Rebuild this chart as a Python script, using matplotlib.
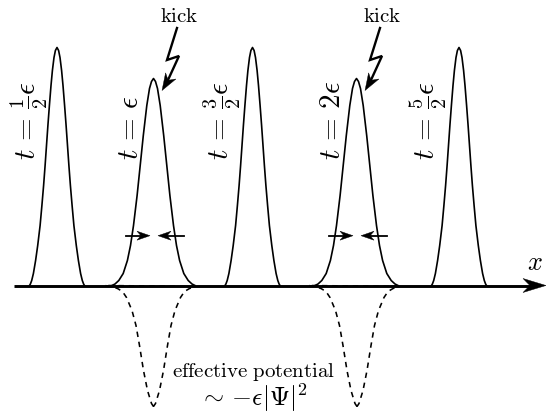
import matplotlib
matplotlib.use('Agg')
import matplotlib.pyplot as plt
import numpy as np
from matplotlib.patches import Polygon

plt.rcParams['mathtext.fontset'] = 'cm'

# everything is in picture pixels, y measured up from the x axis line
AXIS_Y = 285.5

# pulse profile: height above the axis -> half width
tall_h = [238, 235, 228, 215, 200, 180, 160, 140, 120, 100, 80, 60, 40, 25, 12, 5, 1.5, 0]
tall_w = [0, 1.6, 3.0, 4.6, 6.0, 7.6, 9.1, 10.5, 11.9, 13.4, 15.1, 16.9, 19.3, 21.4, 23.6, 25.3, 26.6, 27.5]
wide_h = [207, 204, 197, 180, 150, 120, 90, 60, 40, 25, 12, 5, 1.5, 0]
wide_w = [0, 2.0, 4.0, 6.7, 10.2, 13.3, 16.4, 20, 23, 26.1, 30.3, 34.7, 38.5, 41.5]
# dashed potential well: depth below the axis -> half width
well_d = [0, 1, 3, 6, 12, 25, 40, 60, 85, 105, 118, 121]
well_w = [49, 42, 36, 31, 27, 21.5, 17.5, 14, 10, 6, 2, 0]

tall_centers = [57, 252.5, 459]
wide_centers = [153.5, 356.5]
well_centers = [153.5, 357]

time_labels = [r'$t\,=\,\frac{1}{2}\epsilon$', r'$t\,=\,\epsilon$', r'$t\,=\,\frac{3}{2}\epsilon$',
               r'$t\,=\,2\epsilon$', r'$t\,=\,\frac{5}{2}\epsilon$']
time_label_x = [29, 130, 222, 332, 428]

# kick bolt, offsets from the first bolt
bolt_x = [177, 167, 179, 168]
bolt_y = [28, 60, 56, 80]
bolt_shift = [0, 203]


def mirrored(center, w, h):
    w = np.array(w, dtype=float)
    h = np.array(h, dtype=float)
    xs = np.concatenate([center - w[::-1], center + w[1:]])
    ys = np.concatenate([h[::-1], h[1:]])
    return xs, ys


def stealth(ax, tip_x, tip_y, ux, uy, length, half, notch=0.3):
    # swept arrow head pointing along (ux, uy)
    px, py = -uy, ux
    pts = [
        (tip_x, tip_y),
        (tip_x - length * ux + half * px, tip_y - length * uy + half * py),
        (tip_x - length * (1 - notch) * ux, tip_y - length * (1 - notch) * uy),
        (tip_x - length * ux - half * px, tip_y - length * uy - half * py),
    ]
    ax.add_patch(Polygon(pts, closed=True, fc='k', ec='k', lw=0.3, zorder=5))


fig = plt.figure(figsize=(5.46, 4.13), dpi=100)
ax = fig.add_axes([0, 0, 1, 1])
ax.set_xlim(0, 546)
ax.set_ylim(413, 0)
ax.axis('off')

for c in tall_centers:
    xs, ys = mirrored(c, tall_w, tall_h)
    ax.plot(xs, AXIS_Y - ys, color='k', lw=1.2, zorder=2)
for c in wide_centers:
    xs, ys = mirrored(c, wide_w, wide_h)
    ax.plot(xs, AXIS_Y - ys, color='k', lw=1.2, zorder=2)
for c in well_centers:
    xs, ys = mirrored(c, well_w, well_d)
    ax.plot(xs, AXIS_Y + ys, color='k', lw=1.15, dashes=(3.4, 3.0), zorder=2)

# x axis
ax.plot([14, 532], [AXIS_Y, AXIS_Y], color='k', lw=2.1, solid_capstyle='butt', zorder=3)
stealth(ax, 546, AXIS_Y, 1, 0, 23, 7)
ax.text(535, 263, '$x$', fontsize=19, ha='center', va='center')

# kicks
for dx in bolt_shift:
    ax.plot(np.array(bolt_x) + dx, bolt_y, color='k', lw=1.7, solid_joinstyle='miter', zorder=4)
    vx, vy = -6.0, 10.0
    n = np.hypot(vx, vy)
    stealth(ax, 162 + dx, 90.5, vx / n, vy / n, 17, 6)
    ax.text(179 + dx, 16, r'$\mathrm{kick}$', fontsize=15, ha='center', va='center')

# compression arrows
for c in wide_centers:
    ax.plot([c - 28, c - 8], [235.7, 235.7], color='k', lw=1.3, zorder=4)
    stealth(ax, c - 3.5, 235.7, 1, 0, 13, 4.5)
    ax.plot([c + 30, c + 10], [235.7, 235.7], color='k', lw=1.3, zorder=4)
    stealth(ax, c + 4.5, 235.7, -1, 0, 13, 4.5)

for x, lab in zip(time_label_x, time_labels):
    ax.text(x, 160, lab, fontsize=21, rotation=90, ha='center', va='bottom')

ax.text(254, 372, r'$\mathrm{effective\ potential}$', fontsize=15, ha='center', va='center')
ax.text(253, 398, r'$\sim\,{-}\epsilon|\Psi|^2$', fontsize=18.5, ha='center', va='center')

fig.savefig('out.png', dpi=100)
